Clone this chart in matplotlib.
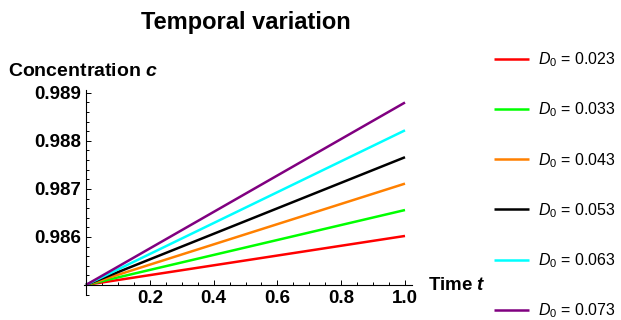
"""
Temporal variation of concentration c for several D0 values.
"""

import matplotlib
matplotlib.use("Agg")
import matplotlib.pyplot as plt
from matplotlib.ticker import MultipleLocator, FixedLocator

plt.rcParams["font.family"] = ["Liberation Sans", "DejaVu Sans"]
plt.rcParams["mathtext.fontset"] = "custom"
plt.rcParams["mathtext.rm"] = "Liberation Sans"
plt.rcParams["mathtext.it"] = "Liberation Sans:italic"
plt.rcParams["mathtext.bf"] = "Liberation Sans:bold"
plt.rcParams["mathtext.bfit"] = "Liberation Sans:italic:bold"

# ---------------------------------------------------------------------------
# Data
# ---------------------------------------------------------------------------
t = [0.0, 1.0]
d0_values = ["0.023", "0.033", "0.043", "0.053", "0.063", "0.073"]
c_023 = [0.98500, 0.98602]
c_033 = [0.98500, 0.98656]
c_043 = [0.98500, 0.98711]
c_053 = [0.98500, 0.98766]
c_063 = [0.98500, 0.98822]
c_073 = [0.98500, 0.98880]
series = [c_023, c_033, c_043, c_053, c_063, c_073]
colors = ["#FF0000", "#00FF00", "#FF8000", "#000000", "#00FFFF", "#800080"]

x_ticks = [0.2, 0.4, 0.6, 0.8, 1.0]
y_ticks = [0.986, 0.987, 0.988, 0.989]

# ---------------------------------------------------------------------------
# Plot
# ---------------------------------------------------------------------------
W, H = 621, 320
fig = plt.figure(figsize=(W / 100, H / 100), dpi=100)
fig.patch.set_facecolor("white")

ax = fig.add_axes([84.1 / W, 1 - 295 / H, (411.7 - 84.1) / W, (295 - 90) / H])
ax.set_facecolor("white")

handles = []
for vals, col, d0 in zip(series, colors, d0_values):
    (ln,) = ax.plot(t, vals, color=col, linewidth=1.8, solid_capstyle="butt",
                    label=rf"$D_0$ = {d0}")
    handles.append(ln)

ax.set_xlim(-0.006, 1.021)
ax.set_ylim(0.98479, 0.98906)

# Mathematica-style axes crossing at (0, 0.985)
for s in ("top", "right"):
    ax.spines[s].set_visible(False)
ax.spines["left"].set_position(("data", 0.0))
ax.spines["bottom"].set_position(("data", 0.985))
for s in ("left", "bottom"):
    ax.spines[s].set_linewidth(0.8)

ax.xaxis.set_major_locator(FixedLocator(x_ticks))
ax.yaxis.set_major_locator(FixedLocator(y_ticks))
ax.xaxis.set_minor_locator(MultipleLocator(0.05))
ax.yaxis.set_minor_locator(MultipleLocator(0.0002))
ax.set_xticklabels([f"{v:.1f}" for v in x_ticks])
ax.set_yticklabels([f"{v:.3f}" for v in y_ticks])
ax.tick_params(which="both", direction="in", width=0.7)
ax.tick_params(which="major", length=3.8, labelsize=13.5, pad=3.5)
ax.tick_params(which="minor", length=2.2)
for lab in ax.get_xticklabels() + ax.get_yticklabels():
    lab.set_fontweight("bold")

# Texts
fig.text(246 / W, 1 - 29.3 / H, "Temporal variation", ha="center",
         va="baseline", fontsize=17, fontweight="bold")
fig.text(8 / W, 1 - 76 / H, r"Concentration $\mathbfit{c}$", ha="left",
         va="baseline", fontsize=14, fontweight="bold")
fig.text(428 / W, 1 - 289.5 / H, r"Time $\mathbfit{t}$", ha="left",
         va="baseline", fontsize=13.5, fontweight="bold")

fig.legend(handles=handles, loc="upper left",
           bbox_to_anchor=(494 / W, 1 - 50.5 / H), frameon=False,
           fontsize=11.5, handlelength=2.19, handletextpad=0.55,
           labelspacing=1.97, borderpad=0, borderaxespad=0)

fig.savefig("out.png", dpi=100, facecolor="white")
plt.close(fig)
